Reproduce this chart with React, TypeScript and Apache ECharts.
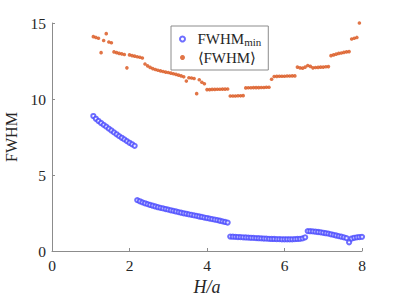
import React, { useEffect, useRef } from 'react';
import * as echarts from 'echarts';

// H/a sample positions
const hOverA = [
  1.067, 1.133, 1.2, 1.267, 1.333, 1.4, 1.467, 1.533, 1.6, 1.667, 1.733, 1.8, 1.867, 1.933, 2, 2.067, 2.133,
  2.2, 2.267, 2.333, 2.4, 2.467, 2.533, 2.6, 2.667, 2.733, 2.8, 2.867, 2.933, 3, 3.067, 3.133, 3.2, 3.267,
  3.333, 3.4, 3.467, 3.533, 3.6, 3.667, 3.733, 3.8, 3.867, 3.933, 4, 4.067, 4.133, 4.2, 4.267, 4.333, 4.4,
  4.467, 4.533, 4.6, 4.667, 4.733, 4.8, 4.867, 4.933, 5, 5.067, 5.133, 5.2, 5.267, 5.333, 5.4, 5.467, 5.533,
  5.6, 5.667, 5.733, 5.8, 5.867, 5.933, 6, 6.067, 6.133, 6.2, 6.267, 6.333, 6.4, 6.467, 6.533, 6.6, 6.667,
  6.733, 6.8, 6.867, 6.933, 7, 7.067, 7.133, 7.2, 7.267, 7.333, 7.4, 7.467, 7.533, 7.6, 7.667, 7.733, 7.8,
  7.867, 7.933, 8,
];

// FWHM_min (blue open circles)
const fwhmMin = [
  8.88, 8.7, 8.55, 8.42, 8.3, 8.18, 8.05, 7.93, 7.8, 7.68, 7.56, 7.45, 7.34, 7.23, 7.12, 7.02, 6.92,
  3.35, 3.27, 3.2, 3.14, 3.08, 3.03, 2.98, 2.93, 2.88, 2.84, 2.8, 2.76, 2.72, 2.68, 2.64, 2.6, 2.56, 2.52,
  2.48, 2.45, 2.41, 2.38, 2.34, 2.31, 2.27, 2.24, 2.2, 2.17, 2.13, 2.1, 2.06, 2.03, 1.99, 1.95, 1.91, 1.87,
  0.95, 0.94, 0.93, 0.92, 0.91, 0.9, 0.89, 0.88, 0.87, 0.86, 0.85, 0.84, 0.83, 0.82, 0.81, 0.8, 0.79, 0.79,
  0.78, 0.78, 0.77, 0.77, 0.77, 0.77, 0.77, 0.78, 0.79, 0.8, 0.83, 0.9,
  1.31, 1.3, 1.29, 1.27, 1.25, 1.23, 1.2, 1.17, 1.14, 1.1, 1.06, 1.02, 0.98, 0.94, 0.9, 0.85, 0.57, 0.82,
  0.87, 0.9, 0.92, 0.93,
];

// <FWHM> (orange dots)
const fwhmMean = [
  14.1, 14.05, 14.0, 13.05, 13.85, 14.3, 13.75, 13.7,
  13.1, 13.05, 13.0, 12.97, 12.93, 12.05,
  12.9, 12.85, 12.82, 12.78, 12.75, 12.7,
  12.3, 12.18, 12.08, 12.0, 11.94, 11.89, 11.85, 11.81, 11.77, 11.74, 11.7, 11.66, 11.62, 11.57, 11.52, 11.46,
  11.18, 11.4, 11.38, 11.35, 10.35, 11.27, 11.1, 11.0,
  10.62, 10.62, 10.63, 10.63, 10.64, 10.64, 10.65, 10.65, 10.66,
  10.2, 10.2, 10.2, 10.21, 10.21, 10.22,
  10.73, 10.74, 10.74, 10.75, 10.75, 10.75, 10.76, 10.76, 10.77, 10.77,
  11.3,
  11.48, 11.49, 11.5, 11.5, 11.5, 11.51, 11.51, 11.52, 11.52,
  12.1, 12.05, 12.03, 12.1, 12.2, 12.15, 12.05, 12.07, 12.08, 12.1, 12.1, 12.12, 12.13,
  12.85, 12.9, 12.95, 13.0, 13.03, 13.07, 13.1, 13.12,
  13.95, 14.0, 14.05,
  15.0, 15.05,
];

const seriesNames = ['FWHMmin', '⟨FWHM⟩'];
const xRange = [0, 8];
const yRange = [0, 15];

const serif = 'Liberation Serif';
const axisGrey = '#8c8c8c';
const textColor = '#262626';

export default function App() {
  const ref = useRef<HTMLDivElement>(null);
  useEffect(() => {
    if (!ref.current) return;
    const chart = echarts.init(ref.current, null, { renderer: 'svg' });
    const minData = hOverA.map((x, i) => [x, fwhmMin[i]]);
    const meanData = hOverA.map((x, i) => [x, fwhmMean[i]]);
    chart.setOption({
      animation: false,
      backgroundColor: '#ffffff',
      textStyle: { fontFamily: serif },
      grid: { left: 52, right: 37, top: 23, bottom: 48, containLabel: false, outerBoundsMode: 'none' },
      xAxis: {
        type: 'value',
        min: xRange[0],
        max: xRange[1],
        interval: 2,
        name: 'H/a',
        nameLocation: 'middle',
        nameGap: 25,
        nameTextStyle: { fontFamily: serif, fontStyle: 'italic', fontSize: 18, color: textColor },
        axisLine: { show: true, onZero: false, lineStyle: { color: axisGrey, width: 1 } },
        axisTick: { show: true, inside: true, length: 3, lineStyle: { color: axisGrey } },
        axisLabel: { color: textColor, fontFamily: serif, fontSize: 15.5, margin: 6 },
        splitLine: { show: false },
      },
      yAxis: {
        type: 'value',
        min: yRange[0],
        max: yRange[1],
        interval: 5,
        name: 'FWHM',
        nameLocation: 'middle',
        nameGap: 32,
        nameTextStyle: { fontFamily: serif, fontSize: 16, color: textColor },
        axisLine: { show: true, onZero: false, lineStyle: { color: axisGrey, width: 1 } },
        axisTick: { show: true, inside: true, length: 3, lineStyle: { color: axisGrey } },
        axisLabel: { color: textColor, fontFamily: serif, fontSize: 15.5, margin: 6 },
        splitLine: { show: false },
      },
      legend: {
        orient: 'vertical',
        left: 171,
        top: 26,
        padding: [5, 7, 5, 8],
        itemGap: 3,
        itemWidth: 10,
        itemHeight: 5,
        borderColor: axisGrey,
        borderWidth: 1,
        backgroundColor: '#ffffff',
        data: [
          { name: seriesNames[0], icon: 'emptyCircle' },
          { name: seriesNames[1], icon: 'circle' },
        ],
        formatter: (name: string) =>
          name === seriesNames[0] ? '{a|FWHM}{s|min}' : '{a|⟨FWHM⟩}',
        textStyle: {
          fontFamily: serif,
          color: textColor,
          padding: [0, 0, 0, 5],
          rich: {
            a: { fontFamily: serif, fontSize: 15, lineHeight: 16, color: textColor },
            s: { fontFamily: serif, fontSize: 11, lineHeight: 11, color: textColor, verticalAlign: 'bottom', padding: [5, 0, 0, 0] },
          },
        },
      },
      series: [
        {
          name: seriesNames[0],
          type: 'scatter',
          symbol: 'emptyCircle',
          symbolSize: 4.2,
          itemStyle: { color: '#4a4aff', borderWidth: 0.55 },
          data: minData,
          z: 2,
        },
        {
          name: seriesNames[1],
          type: 'scatter',
          symbol: 'circle',
          symbolSize: 3.6,
          itemStyle: { color: '#D95319' },
          data: meanData,
          z: 3,
        },
      ],
    });
    return () => chart.dispose();
  }, []);
  return (
    <div
      ref={ref}
      style={{ position: 'fixed', left: 0, top: 0, width: 399, height: 299, background: '#ffffff' }}
    />
  );
}
